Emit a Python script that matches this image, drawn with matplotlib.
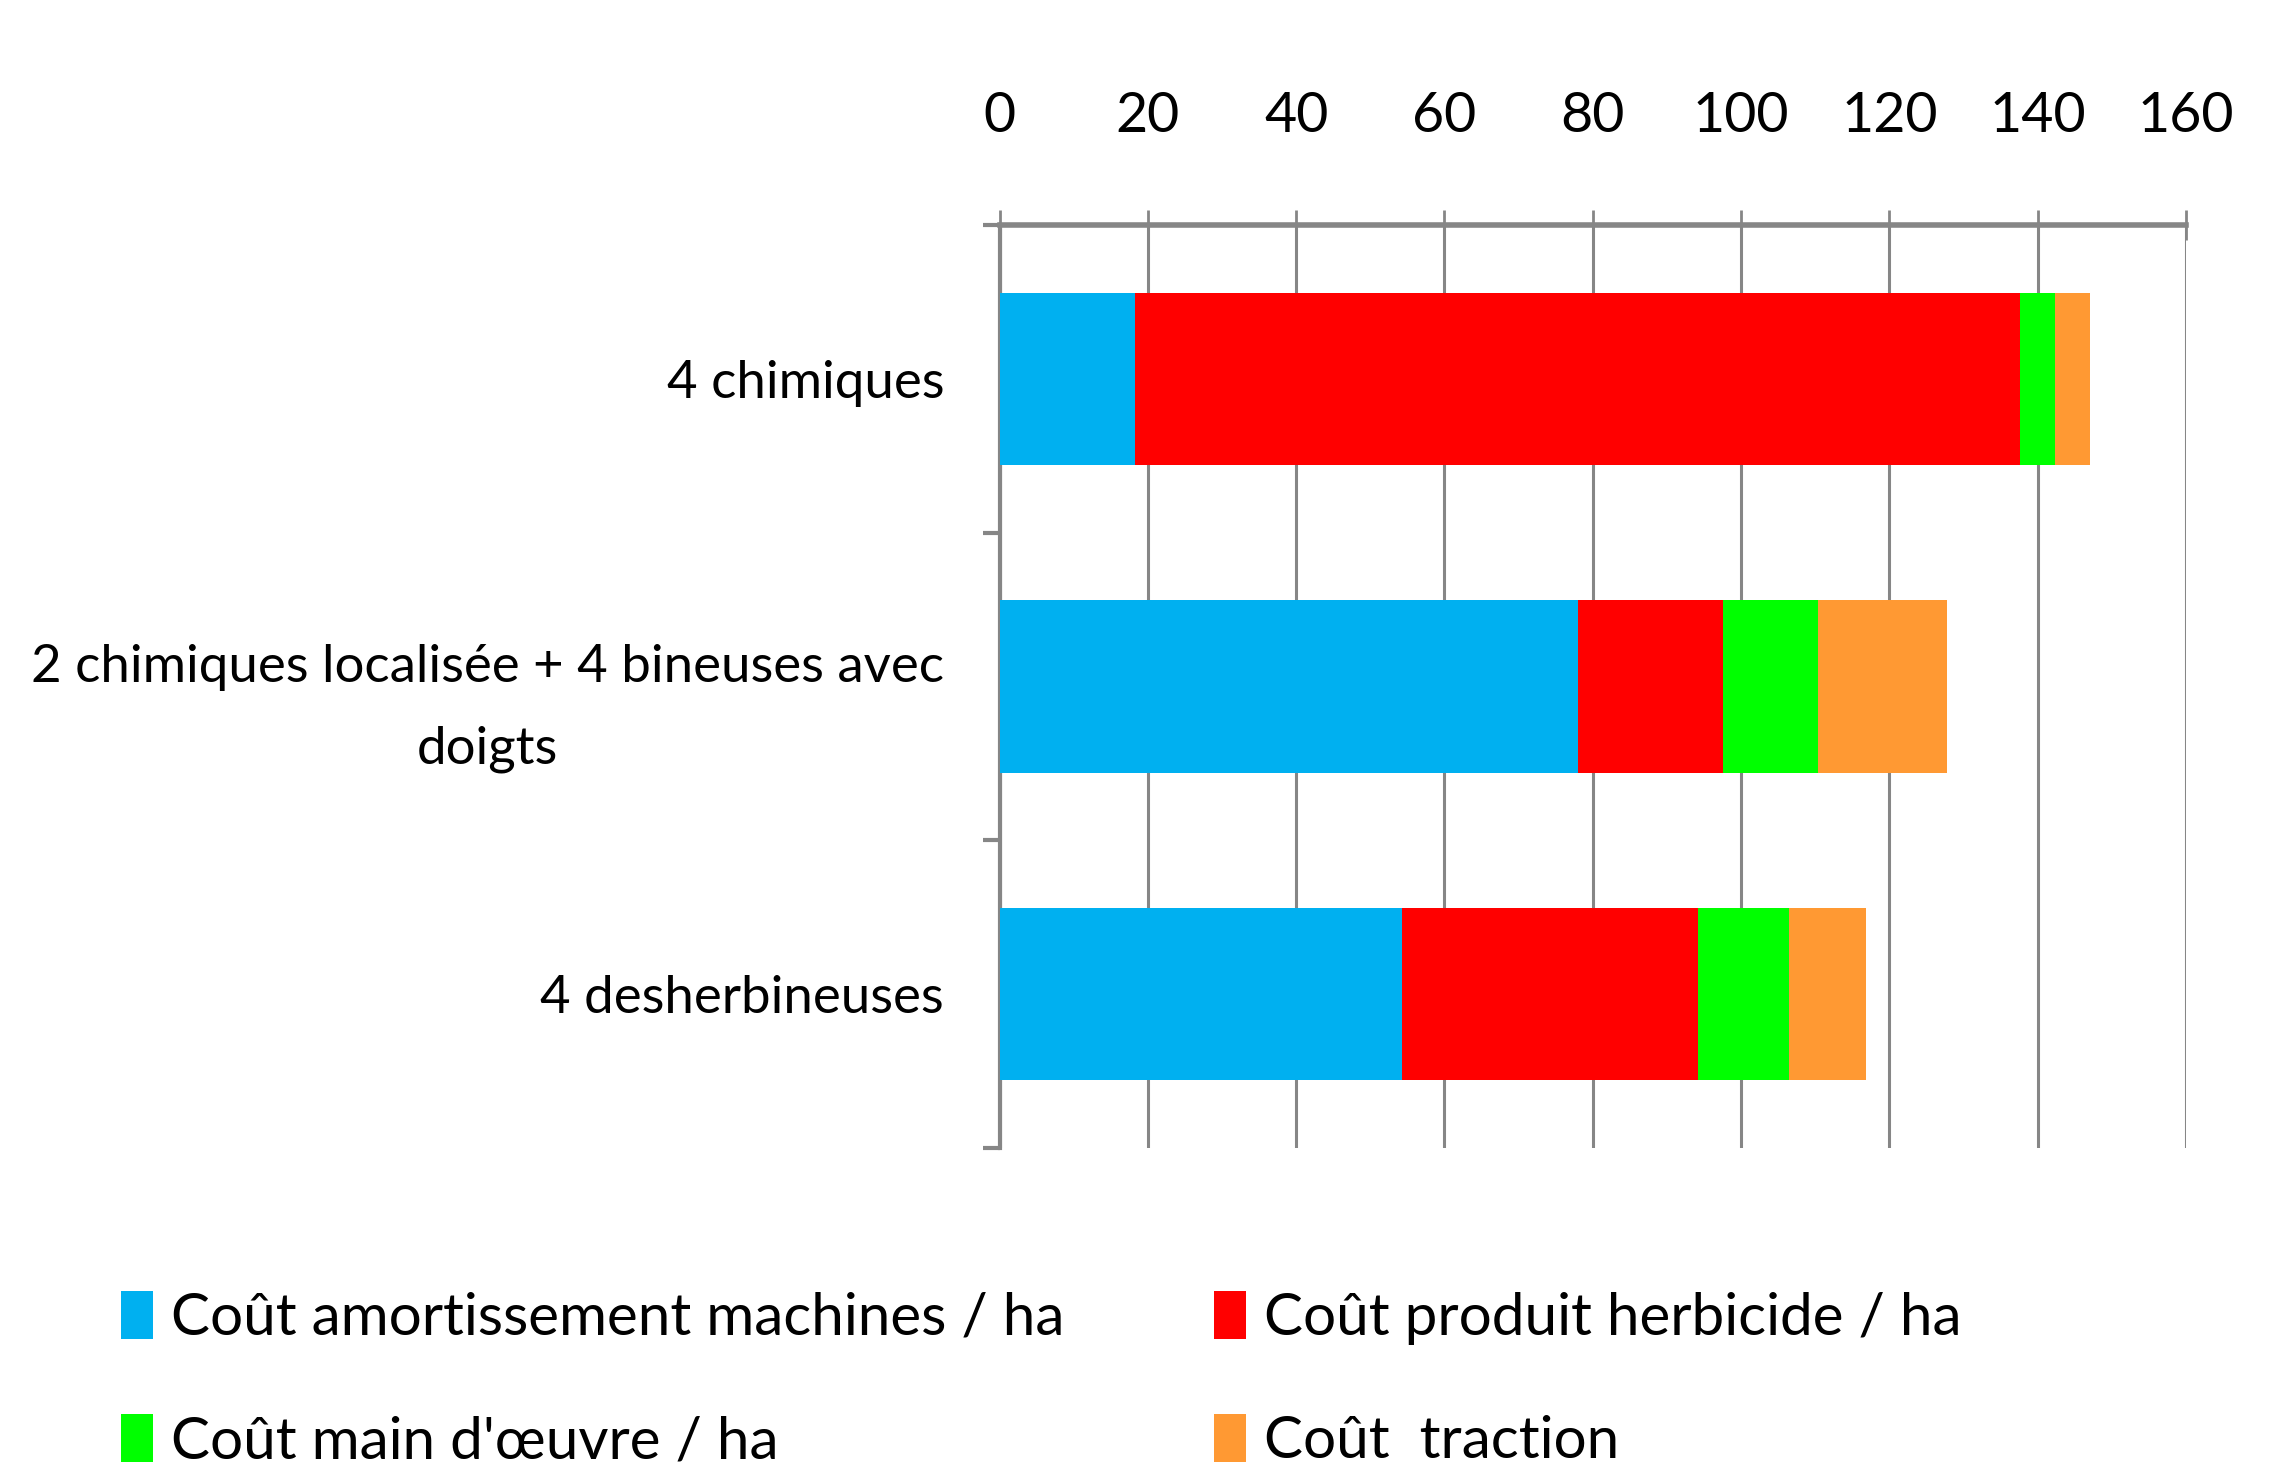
import matplotlib
matplotlib.use("Agg")
import matplotlib.pyplot as plt
from matplotlib.patches import Patch

plt.rcParams['font.family'] = ['Lato', 'DejaVu Sans']

# categories from top to bottom
categories = ["4 chimiques",
              "2 chimiques localisée + 4 bineuses avec\ndoigts",
              "4 desherbineuses"]
series_names = ["Coût amortissement machines / ha",
                "Coût produit herbicide / ha",
                "Coût main d'œuvre / ha",
                "Coût  traction"]
amortissement = [18.3, 78.0, 54.3]
herbicide = [119.3, 19.6, 39.9]
main_oeuvre = [4.8, 12.8, 12.3]
traction = [4.6, 17.4, 10.4]
colors = ["#00B0F0", "#FF0000", "#00FF00", "#FF9933"]
xticks = [0, 20, 40, 60, 80, 100, 120, 140, 160]

fig = plt.figure(figsize=(22.78, 14.81), dpi=100)
ax = fig.add_axes([0.4388, 0.2249, 0.9596 - 0.4388, 0.848 - 0.2249])

grey = "#868686"
ypos = list(range(len(categories)))
left = [0, 0, 0]
for vals, col, name in zip([amortissement, herbicide, main_oeuvre, traction], colors, series_names):
    ax.barh(ypos, vals, left=left, height=0.56, color=col, label=name, zorder=3)
    left = [l + v for l, v in zip(left, vals)]

ax.set_xlim(0, 160)
ax.set_ylim(2.5, -0.5)
ax.set_xticks(xticks)
ax.xaxis.tick_top()
ax.tick_params(axis='x', which='major', direction='inout', length=22, width=2,
               color=grey, labelsize=40, pad=49)
ax.grid(axis='x', color=grey, linewidth=2.2, zorder=0)

ax.set_yticks(ypos)
ax.set_yticklabels(categories, multialignment='center', linespacing=1.9)
ax.tick_params(axis='y', which='major', length=0, labelsize=38, pad=40)
ax.set_yticks([-0.5, 0.5, 1.5, 2.5], minor=True)
ax.tick_params(axis='y', which='minor', direction='out', length=12, width=3, color=grey)

for side in ['right', 'bottom']:
    ax.spines[side].set_visible(False)
ax.spines['top'].set_color(grey)
ax.spines['top'].set_linewidth(4)
ax.spines['left'].set_color(grey)
ax.spines['left'].set_linewidth(3)

# matplotlib fills legend columns first, reorder so rows read like the original
order = [0, 2, 1, 3]
handles = [Patch(facecolor=colors[i], edgecolor='none') for i in order]
labels = [series_names[i] for i in order]
fig.legend(handles, labels, loc='upper left', bbox_to_anchor=(0.043, 0.1443),
           ncol=2, frameon=False, fontsize=42, handlelength=0.55, handleheight=0.9,
           handletextpad=0.3, columnspacing=2.57, labelspacing=1.18, borderaxespad=0)

fig.savefig("out.png", dpi=100)
